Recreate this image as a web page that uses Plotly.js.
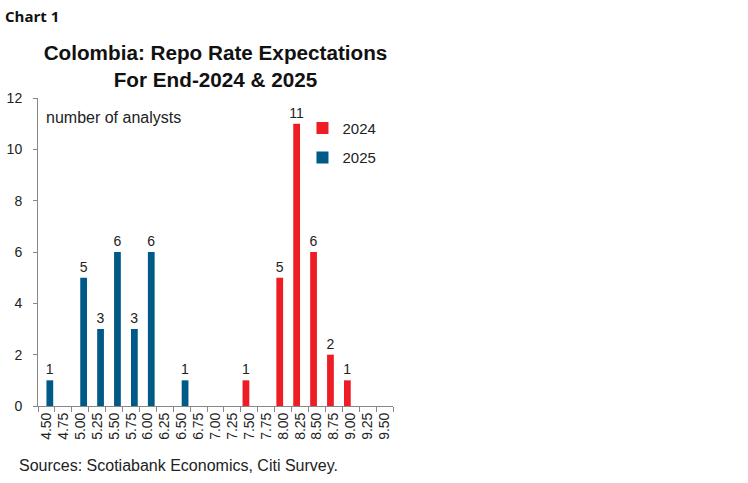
<!DOCTYPE html>
<html>
<head>
<meta charset="utf-8">
<script src="https://cdn.plot.ly/plotly-3.0.1.min.js"></script>
<style>html,body{margin:0;padding:0;background:#fff;}#chart{width:748px;height:483px;}</style>
</head>
<body>
<div id="chart"></div>
<script>
const categories = ["4.50","4.75","5.00","5.25","5.50","5.75","6.00","6.25","6.50","6.75","7.00","7.25","7.50","7.75","8.00","8.25","8.50","8.75","9.00","9.25","9.50"];
const values2024 = [null,null,null,null,null,null,null,null,null,null,null,null,1,null,5,11,6,2,1,null,null];
const values2025 = [1,null,5,3,6,3,6,null,1,null,null,null,null,null,null,null,null,null,null,null,null];
const yTicks = [0,2,4,6,8,10,12];

const labelOf = v => (v === null ? '' : String(v));
const fontFam = 'Liberation Sans, Arial, sans-serif';

const traces = [
  {type:'bar', name:'2024', x:categories, y:values2024, text:values2024.map(labelOf),
   textposition:'outside', constraintext:'none', cliponaxis:false, marker:{color:'#ee1c25'}, legendgroup:'a',
   textfont:{family:fontFam,size:14,color:'#222'}, hoverinfo:'skip'},
  {type:'bar', name:'2025', x:categories, y:values2025, text:values2025.map(labelOf),
   textposition:'outside', constraintext:'none', cliponaxis:false, marker:{color:'#005a87'}, legendgroup:'b',
   textfont:{family:fontFam,size:14,color:'#222'}, hoverinfo:'skip'}
];

const layout = {
  width:748, height:483,
  margin:{l:38, r:355, t:98, b:77, pad:0},
  paper_bgcolor:'#fff', plot_bgcolor:'#fff',
  barmode:'group', bargap:0.2, bargroupgap:0,
  font:{family:fontFam, size:14, color:'#222'},
  title:{text:'<b>Colombia: Repo Rate Expectations<br>For End-2024 & 2025</b>',
         font:{family:fontFam,size:20.7,color:'#111'}, x:0.5, xref:'paper',
         y:0.875, yref:'container', yanchor:'top'},
  xaxis:{type:'category', categoryorder:'array', categoryarray:categories,
         tickmode:'array', tickvals:categories, ticktext:categories,
         tickangle:-90, tickson:'boundaries', ticks:'outside', ticklen:5, tickcolor:'#888',
         showline:true, linecolor:'#888', linewidth:1, showgrid:false, zeroline:false,
         tickfont:{family:fontFam,size:14,color:'#222'}, fixedrange:true},
  yaxis:{range:[0,12], tickvals:yTicks, ticktext:yTicks.map(String), ticks:'outside', ticklen:4,
         tickcolor:'#888', showline:true, linecolor:'#888', linewidth:1, showgrid:false,
         zeroline:false, tickfont:{family:fontFam,size:14,color:'#222'}, ticklabelstandoff:8, fixedrange:true},
  showlegend:true,
  legend:{x:0.745, y:0.955, xanchor:'left', yanchor:'top', bgcolor:'rgba(0,0,0,0)',
          font:{family:fontFam,size:15,color:'#222'}, traceorder:'grouped', tracegroupgap:7,
          itemwidth:30},
  annotations:[
    {text:'<b>Chart 1</b>', xref:'paper', yref:'paper', x:-38/355+3/355, y:1+98/308-16/308, xanchor:'left', yanchor:'middle',
     showarrow:false, font:{family:'Open Sans, sans-serif', size:15, color:'#111'}},
    {text:'number of analysts', xref:'paper', yref:'paper', x:6/355, y:1-19/308, xanchor:'left', yanchor:'middle',
     showarrow:false, font:{family:fontFam, size:16, color:'#222'}},
    {text:'Sources: Scotiabank Economics, Citi Survey.', xref:'paper', yref:'paper', x:-21/355, y:-59/308, xanchor:'left', yanchor:'middle',
     showarrow:false, font:{family:fontFam, size:16, color:'#222'}}
  ]
};

Plotly.newPlot('chart', traces, layout, {displayModeBar:false, staticPlot:true});
</script>
</body>
</html>
